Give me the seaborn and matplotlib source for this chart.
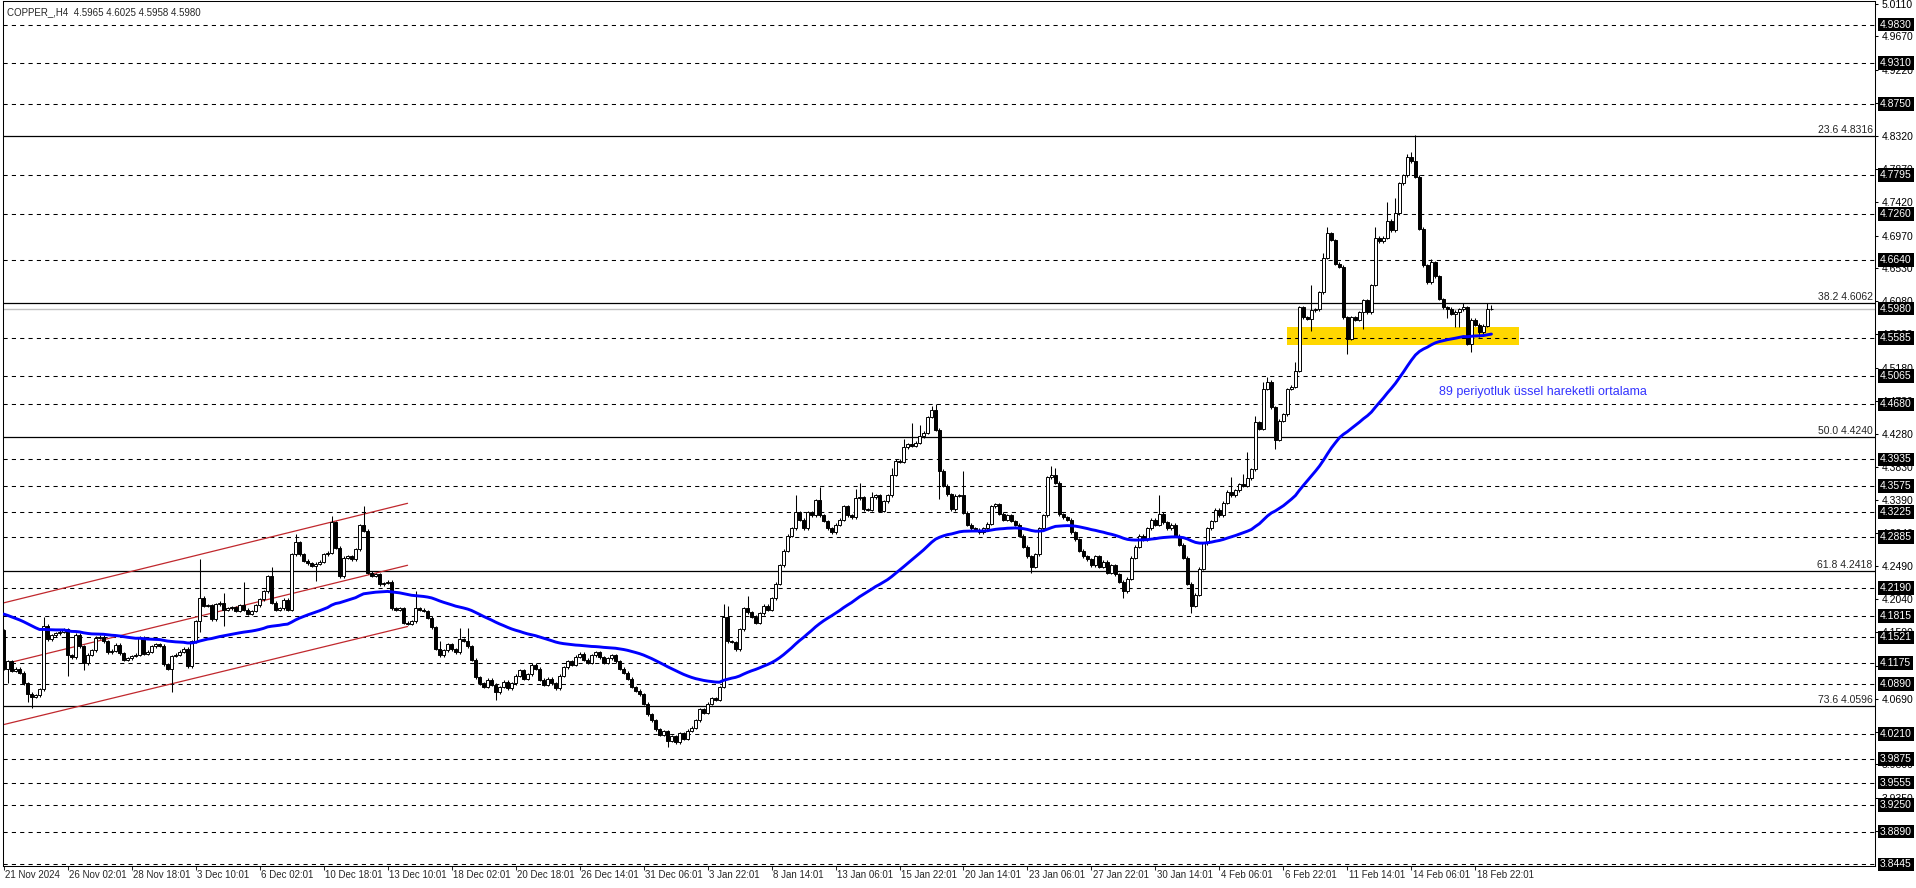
import numpy as np
import pandas as pd
import seaborn as sns
import matplotlib.pyplot as plt
import matplotlib.transforms as mtransforms
from matplotlib.patches import Rectangle

# H4 closes, one per bar (21 Nov 2024 -> 19 Feb 2025)
closes = [
    4.110, 4.120, 4.107, 4.110, 4.104, 4.090, 4.076, 4.072, 4.074, 4.082,
    4.168, 4.150, 4.155, 4.158, 4.160, 4.163, 4.128, 4.125, 4.156, 4.140,
    4.117, 4.129, 4.135, 4.152, 4.153, 4.147, 4.132, 4.134, 4.142, 4.131,
    4.122, 4.124, 4.127, 4.129, 4.152, 4.130, 4.133, 4.140, 4.143, 4.141,
    4.116, 4.110, 4.127, 4.129, 4.133, 4.137, 4.113, 4.147, 4.174, 4.206,
    4.195, 4.196, 4.177, 4.197, 4.199, 4.190, 4.192, 4.193, 4.188, 4.196,
    4.190, 4.184, 4.188, 4.196, 4.204, 4.215, 4.235, 4.199, 4.190, 4.192,
    4.203, 4.190, 4.265, 4.281, 4.265, 4.256, 4.253, 4.249, 4.252, 4.255,
    4.265, 4.267, 4.308, 4.274, 4.235, 4.260, 4.262, 4.258, 4.272, 4.304,
    4.297, 4.240, 4.236, 4.238, 4.224, 4.226, 4.228, 4.192, 4.190, 4.192,
    4.172, 4.171, 4.174, 4.192, 4.190, 4.188, 4.179, 4.166, 4.137, 4.128,
    4.135, 4.143, 4.136, 4.132, 4.150, 4.148, 4.140, 4.122, 4.098, 4.090,
    4.085, 4.095, 4.088, 4.078, 4.085, 4.092, 4.083, 4.090, 4.100, 4.108,
    4.096, 4.102, 4.115, 4.110, 4.095, 4.088, 4.096, 4.090, 4.083, 4.100,
    4.112, 4.120, 4.115, 4.126, 4.130, 4.122, 4.118, 4.128, 4.132, 4.125,
    4.118, 4.124, 4.128, 4.120, 4.110, 4.104, 4.096, 4.085, 4.080, 4.075,
    4.062, 4.048, 4.040, 4.028, 4.020, 4.025, 4.012, 4.018, 4.010, 4.022,
    4.015, 4.026, 4.030, 4.040, 4.055, 4.050, 4.062, 4.070, 4.068, 4.085,
    4.180, 4.147, 4.146, 4.136, 4.163, 4.192, 4.186, 4.180, 4.172, 4.185,
    4.195, 4.190, 4.205, 4.225, 4.250, 4.270, 4.290, 4.300, 4.322, 4.312,
    4.300, 4.322, 4.318, 4.338, 4.318, 4.310, 4.300, 4.295, 4.305, 4.312,
    4.330, 4.318, 4.315, 4.341, 4.342, 4.326, 4.325, 4.342, 4.345, 4.324,
    4.337, 4.345, 4.373, 4.392, 4.390, 4.410, 4.414, 4.412, 4.416, 4.425,
    4.430, 4.451, 4.461, 4.434, 4.378, 4.358, 4.346, 4.326, 4.344, 4.345,
    4.321, 4.305, 4.300, 4.298, 4.295, 4.300, 4.306, 4.330, 4.333, 4.320,
    4.312, 4.318, 4.310, 4.305, 4.290, 4.275, 4.262, 4.248, 4.265, 4.300,
    4.318, 4.369, 4.372, 4.362, 4.319, 4.315, 4.312, 4.295, 4.285, 4.270,
    4.262, 4.258, 4.250, 4.262, 4.248, 4.255, 4.240, 4.250, 4.238, 4.228,
    4.215, 4.232, 4.260, 4.275, 4.290, 4.285, 4.300, 4.312, 4.305, 4.320,
    4.308, 4.300, 4.305, 4.290, 4.278, 4.260, 4.225, 4.195, 4.210, 4.245,
    4.280, 4.300, 4.310, 4.325, 4.318, 4.335, 4.350, 4.345, 4.352, 4.360,
    4.358, 4.368, 4.380, 4.444, 4.435, 4.489, 4.499, 4.464, 4.420, 4.446,
    4.455, 4.489, 4.492, 4.514, 4.600, 4.586, 4.584, 4.596, 4.597, 4.620,
    4.667, 4.700, 4.691, 4.659, 4.655, 4.586, 4.557, 4.586, 4.583, 4.593,
    4.609, 4.593, 4.630, 4.694, 4.689, 4.694, 4.717, 4.704, 4.727, 4.768,
    4.779, 4.803, 4.798, 4.777, 4.706, 4.657, 4.634, 4.661, 4.642, 4.611,
    4.600, 4.598, 4.591, 4.594, 4.597, 4.600, 4.550, 4.583, 4.576, 4.566,
    4.575, 4.597, 4.598,
]
first_open = 4.162

# long wicks that stand out on the chart
high_marks = {
    10: 4.180, 16: 4.165, 49: 4.258, 55: 4.212, 60: 4.228, 67: 4.248, 73: 4.292,
    82: 4.317, 90: 4.331, 103: 4.215, 109: 4.147, 114: 4.165, 116: 4.165,
    180: 4.197, 181: 4.195, 186: 4.208, 198: 4.345, 204: 4.356, 213: 4.353,
    214: 4.362, 217: 4.350, 222: 4.382, 225: 4.421, 227: 4.443, 229: 4.440,
    232: 4.466, 233: 4.468, 240: 4.378, 262: 4.384, 263: 4.382, 289: 4.345,
    307: 4.369, 310: 4.374, 311: 4.403, 313: 4.453, 315: 4.498, 316: 4.505,
    323: 4.525, 324: 4.602, 327: 4.630, 330: 4.673, 331: 4.709, 343: 4.709,
    346: 4.742, 348: 4.748, 351: 4.808, 352: 4.810, 353: 4.833, 357: 4.665,
    365: 4.606, 371: 4.606, 372: 4.6025,
}
low_marks = {
    1: 4.090, 6: 4.064, 7: 4.057, 16: 4.100, 20: 4.108, 42: 4.078, 49: 4.160,
    55: 4.168, 78: 4.229, 123: 4.068, 166: 4.004, 234: 4.340, 257: 4.239,
    280: 4.205, 297: 4.185, 318: 4.408, 327: 4.568, 336: 4.537, 340: 4.571,
    361: 4.585, 363: 4.573, 364: 4.573, 366: 4.548, 367: 4.539, 369: 4.560,
    372: 4.5958,
}
ema_seed = 4.186
ema_span = 70

dash_levels = [4.9830, 4.9310, 4.8750, 4.7795, 4.7260, 4.6640, 4.5585, 4.5065,
               4.4680, 4.3935, 4.3575, 4.3225, 4.2885, 4.2190, 4.1815, 4.1521,
               4.1175, 4.0890, 4.0210, 3.9875, 3.9555, 3.9250, 3.8890, 3.8445]
fib_levels = ["23.6", "38.2", "50.0", "61.8", "73.6"]
fib_prices = [4.8316, 4.6062, 4.4240, 4.2418, 4.0596]
bid_price = 4.5980
axis_ticks = [5.0110, 4.9670, 4.9220, 4.8770, 4.8320, 4.7870, 4.7420, 4.6970,
              4.6530, 4.6080, 4.5630, 4.5180, 4.4730, 4.4280, 4.3830, 4.3390,
              4.2940, 4.2490, 4.2040, 4.1590, 4.1140, 4.0690, 4.0240, 3.9800,
              3.9350, 3.8900]
date_labels = ["21 Nov 2024", "26 Nov 02:01", "28 Nov 18:01", "3 Dec 10:01",
               "6 Dec 02:01", "10 Dec 18:01", "13 Dec 10:01", "18 Dec 02:01",
               "20 Dec 18:01", "26 Dec 14:01", "31 Dec 06:01", "3 Jan 22:01",
               "8 Jan 14:01", "13 Jan 06:01", "15 Jan 22:01", "20 Jan 14:01",
               "23 Jan 06:01", "27 Jan 22:01", "30 Jan 14:01", "4 Feb 06:01",
               "6 Feb 22:01", "11 Feb 14:01", "14 Feb 06:01", "18 Feb 22:01"]
date_bars = [16 * k for k in range(len(date_labels))]

channel_x = [-0.75, 101]
channel_upper = [4.198, 4.334]
channel_mid = [4.115, 4.250]
channel_lower = [4.033, 4.167]

zone_bars = [321, 379]
zone_prices = [4.549, 4.5734]

sns.set_style("white")
plt.rcParams["font.family"] = ["Liberation Sans", "DejaVu Sans"]
plt.rcParams["lines.scale_dashes"] = False

df = pd.DataFrame({"close": closes})
df["bar"] = np.arange(len(df))
df["open"] = df["close"].shift(1).fillna(first_open)
df["high"] = df[["open", "close"]].max(axis=1) + 0.002
df["low"] = df[["open", "close"]].min(axis=1) - 0.002
for k, v in high_marks.items():
    df.loc[k, "high"] = v
for k, v in low_marks.items():
    df.loc[k, "low"] = v
df["ema"] = pd.Series([ema_seed] + closes).ewm(span=ema_span, adjust=False).mean().iloc[1:].values

fig = plt.figure(figsize=(19.16, 8.88), dpi=100)
ax = fig.add_axes([3 / 1916, 22 / 888, 1872 / 1916, 865 / 888])
ax.set_xlim(-0.15, 467.9)
ax.set_ylim(3.8423, 5.015)

# levels
for y in dash_levels:
    ax.axhline(y, color="black", lw=0.75, ls=(0, (3, 3)), zorder=1.5)
for lvl, y in zip(fib_levels, fib_prices):
    ax.axhline(y, color="black", lw=0.9, zorder=1.5)
    ax.text(467.3, y + 0.0012, f"{lvl} {y:.4f}", ha="right", va="bottom", fontsize=7.5)
ax.axhline(bid_price, color="#C0C0C0", lw=1.0, zorder=1.5)

ax.add_patch(Rectangle((zone_bars[0], zone_prices[0]), zone_bars[1] - zone_bars[0],
                       zone_prices[1] - zone_prices[0], color="#FFD700", lw=0, zorder=1))

for ys in (channel_upper, channel_mid, channel_lower):
    ax.plot(channel_x, ys, color="#C0282D", lw=0.9, zorder=2)

# candles
ax.vlines(df["bar"], df["low"], df["high"], color="black", lw=0.75, zorder=3)
body_lo = df[["open", "close"]].min(axis=1)
body_h = (df["close"] - df["open"]).abs().clip(lower=0.0004)
body_col = np.where(df["close"] >= df["open"], "white", "black")
ax.bar(df["bar"], body_h, bottom=body_lo, width=0.6, color=body_col,
       edgecolor="black", linewidth=0.7, zorder=4)

sns.lineplot(data=df, x="bar", y="ema", color="#0000FF", linewidth=2.1, ax=ax, zorder=5)
ax.set_xlabel("")
ax.set_ylabel("")

ax.text(359, 4.485, "89 periyotluk üssel hareketli ortalama", color="#3333FF",
        fontsize=9, va="center", ha="left")

# price axis
ax.yaxis.tick_right()
ax.set_yticks(axis_ticks)
ax.set_yticklabels([f"{t:.4f}" for t in axis_ticks])
ax.tick_params(axis="y", direction="out", length=2.5, width=0.75, pad=2,
               labelsize=7.5, colors="black", right=True, left=False)
box_tr = mtransforms.offset_copy(
    mtransforms.blended_transform_factory(ax.transAxes, ax.transData), fig=fig, x=5, y=0, units="dots")
for y in dash_levels + [bid_price]:
    ax.text(1.0, y, f"{y:.4f}", transform=box_tr, ha="left", va="center", fontsize=7.5,
            color="white", clip_on=False, zorder=6,
            bbox=dict(boxstyle="square,pad=0.18", fc="black", ec="none"))

# time axis
ax.set_xticks(date_bars)
ax.set_xticklabels([])
ax.tick_params(axis="x", direction="out", length=3, width=0.75, bottom=True)
date_tr = mtransforms.blended_transform_factory(ax.transData, ax.transAxes)
for b, lab in zip(date_bars, date_labels):
    ax.text(b + 0.4, -0.005, lab, transform=date_tr, ha="left", va="top", fontsize=7)

for s in ax.spines.values():
    s.set_color("black")
    s.set_linewidth(0.75)

fig.text(7 / 1916, 1 - 12 / 888, "COPPER_,H4  4.5965 4.6025 4.5958 4.5980",
         va="center", ha="left", fontsize=7)

fig.savefig("out.png", dpi=100)
